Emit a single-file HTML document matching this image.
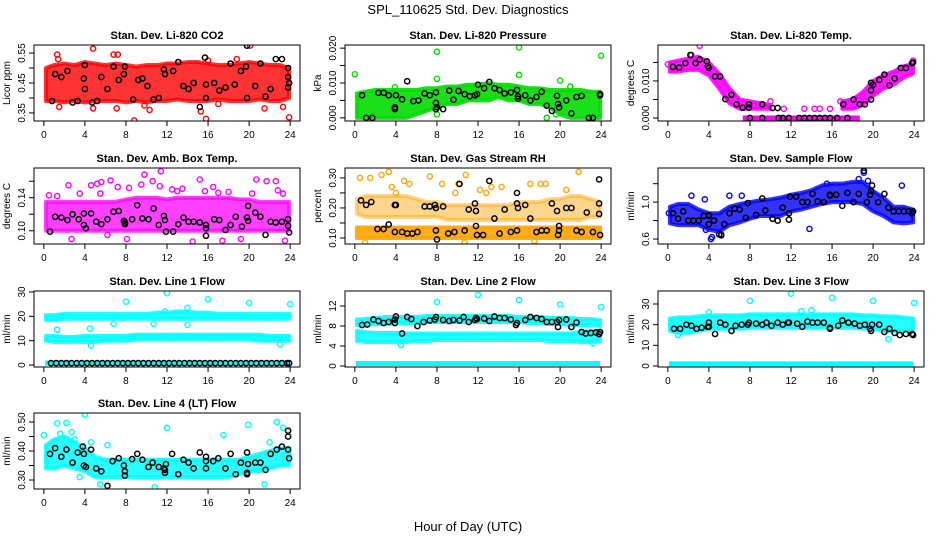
<!DOCTYPE html>
<html><head><meta charset="utf-8">
<style>
html,body{margin:0;padding:0;background:#fff;}
svg{display:block;font-family:"Liberation Sans",Arial,sans-serif;}
</style></head>
<body>
<svg id="chart" width="936" height="540" viewBox="0 0 936 540">
<text x="468" y="14" text-anchor="middle" font-size="13">SPL_110625  Std. Dev. Diagnostics</text>
<text x="468" y="531" text-anchor="middle" font-size="13">Hour of Day (UTC)</text>
</svg>
<script>
// ---------- shared categories ----------
const hours = [0,1,2,3,4,5,6,7,8,9,10,11,12,13,14,15,16,17,18,19,20,21,22,23,24];
const xTicks = [0,4,8,12,16,20,24];

// ---------- CO2 ----------
const co2Lo = [0.39,0.39,0.385,0.39,0.385,0.39,0.39,0.39,0.385,0.39,0.385,0.39,0.39,0.395,0.39,0.39,0.39,0.395,0.39,0.39,0.39,0.395,0.39,0.39,0.4];
const co2Hi = [0.5,0.51,0.515,0.51,0.52,0.515,0.51,0.515,0.51,0.505,0.51,0.51,0.515,0.515,0.52,0.52,0.515,0.51,0.51,0.515,0.52,0.515,0.51,0.51,0.5];
const co2Out = [[1.3,0.545],[4.8,0.565],[5.5,0.59],[8.8,0.325],[15.8,0.33],[23.9,0.335],[20.1,0.575],[1.5,0.37],[6.8,0.545],[7.2,0.545],[4.8,0.365],[10.3,0.36],[15.3,0.355],[21.5,0.365],[23.3,0.37],[17,0.38],[9.8,0.375],[7.1,0.365],[1.4,0.53],[18.8,0.53],[16,0.525]];
const co2Black = [[0.8,0.39],[1.1,0.48],[1.7,0.47],[2.3,0.49],[2.8,0.385],[3.3,0.39],[3.9,0.465],[4,0.43],[4,0.51],[4.7,0.385],[5.2,0.39],[5.6,0.47],[6.2,0.43],[6.8,0.505],[7.3,0.46],[7.8,0.48],[7.9,0.505],[8.7,0.395],[9.2,0.46],[9.6,0.465],[10.1,0.44],[10.7,0.395],[11.2,0.4],[11.7,0.495],[11.8,0.48],[12.6,0.49],[13.1,0.52],[13.6,0.44],[14.1,0.43],[14.6,0.45],[15.2,0.37],[15.8,0.4],[15.8,0.445],[15.7,0.535],[16.6,0.45],[17.1,0.425],[17.7,0.435],[18.2,0.515],[18.6,0.445],[19.2,0.49],[19.7,0.505],[19.8,0.4],[19.8,0.575],[20.6,0.44],[21.1,0.515],[21.6,0.405],[22.1,0.43],[22.6,0.53],[23.2,0.53],[23.8,0.5],[23.8,0.47],[23.9,0.45],[23.8,0.435]];
const co2Ticks = [0.35,0.40,0.45,0.50,0.55];
const co2Labels = ['0.35','','0.45','','0.55'];

// ---------- Pressure ----------
const presLo = [0,0,0,0,0,0,0.001,0.002,0.003,0.004,0.004,0.005,0.005,0.005,0.006,0.005,0.005,0.004,0.004,0.003,0.001,0,0,0,0];
const presHi = [0.007,0.0075,0.008,0.008,0.008,0.008,0.008,0.0085,0.0085,0.009,0.009,0.0095,0.0095,0.01,0.0095,0.0095,0.009,0.0085,0.0085,0.008,0.008,0.008,0.008,0.0075,0.0075];
const presOut = [[0,0.0125],[8,0.019],[8,0.0112],[16,0.0202],[16,0.0123],[24,0.0178],[20,0.0107],[21,0.009],[18.7,0],[3.9,0.0088],[8,0.001],[19.6,0.001]];
const presBlack = [[0.7,0.0065],[1.1,0],[1.7,0],[2.3,0.0072],[2.8,0.0072],[3.3,0.0065],[3.9,0.003],[3.9,0.0025],[4,0.0065],[4.6,0.0053],[5.1,0.0105],[5.7,0.0048],[6.2,0.005],[6.8,0.007],[7.3,0.0065],[7.9,0.0073],[7.9,0.0043],[8,0.003],[7.9,0.0025],[8.6,0.0025],[9.2,0.0078],[9.6,0.0052],[10.1,0.0077],[10.7,0.0068],[11.2,0.0062],[11.7,0.0065],[11.9,0.0068],[12,0.0095],[12.6,0.0085],[13.1,0.0103],[13.6,0.0085],[14.1,0.008],[14.6,0.007],[15.2,0.0073],[15.8,0.008],[15.9,0.0055],[15.9,0.0062],[16.6,0.0065],[17.1,0.005],[17.7,0.006],[18.2,0.0075],[18.7,0.0035],[19.2,0.002],[19.7,0.0063],[19.8,0.004],[19.9,0.003],[20.6,0.005],[21.1,0.0013],[21.6,0.006],[22.1,0.0063],[22.8,0],[23.2,0],[23.9,0.0065],[23.9,0.0068]];
const presTicks = [0,0.005,0.010,0.015,0.020];
const presLabels = ['0.000','','0.010','','0.020'];

// ---------- Li-820 Temp ----------
const tempLo = [0.0125,0.0125,0.013,0.013,0.0115,0.008,0.004,0.0025,0.0025,0.0025,0.0025,null,null,null,null,null,null,0.0025,0.0025,0.0035,0.006,0.008,0.009,0.011,0.012];
const tempHi = [0.015,0.0155,0.016,0.0165,0.015,0.012,0.008,0.005,0.0045,0.004,0.0035,null,null,null,null,null,null,0.0045,0.005,0.007,0.01,0.0115,0.0125,0.014,0.0145];
const tempZeroX = [7.3,18.7];
const tempOut = [[3.1,0.0195],[23.9,0.0155],[2.3,0.017],[10,0.0045],[11.3,0.0025],[13.3,0.0025],[14.3,0.0025],[14.8,0.0025],[15.8,0.0025],[16.8,0.0045],[0,0.0145]];
const tempBlack = [[0.5,0.0138],[1.1,0.0136],[1.7,0.0148],[2.2,0.017],[2.7,0.0148],[3.1,0.0158],[3.8,0.0153],[3.9,0.014],[4,0.0135],[4.6,0.0112],[5.1,0.0112],[5.6,0.0051],[6.2,0.0063],[6.7,0.0037],[7.3,0.0028],[7.9,0.0028],[7.9,0.0037],[9.2,0.0037],[10.2,0.0027],[10.7,0.0027],[17.1,0.0037],[18.1,0.005],[18.7,0.0037],[19.2,0.0037],[19.8,0.005],[19.8,0.0075],[19.8,0.0095],[20,0.009],[20.6,0.0103],[21.1,0.0117],[21.6,0.0088],[22.1,0.0107],[22.7,0.0135],[23.2,0.0135],[23.8,0.0148],[23.9,0.015],[8,0],[9.2,0],[10.8,0],[11.2,0],[11.8,0],[12.8,0],[13.3,0],[13.8,0],[14.3,0],[14.8,0],[15.3,0],[15.8,0],[16.5,0],[17.5,0]];
const tempTicks = [0,0.005,0.010,0.015];
const tempLabels = ['0.000','','0.010',''];

// ---------- Amb. Box Temp ----------
const boxLo = [0.1,0.1,0.1,0.1,0.1,0.1,0.1,0.1,0.1,0.1,0.1,0.1,0.1,0.1,0.1,0.1,0.1,0.1,0.1,0.1,0.1,0.1,0.1,0.1,0.1];
const boxHi = [0.135,0.135,0.135,0.135,0.135,0.135,0.135,0.135,0.138,0.14,0.14,0.14,0.138,0.14,0.14,0.14,0.14,0.14,0.14,0.138,0.138,0.135,0.135,0.135,0.135];
const boxOut = [[2.4,0.155],[1.3,0.142],[0.5,0.143],[2.7,0.09],[4.6,0.155],[5.2,0.157],[5.6,0.159],[6.5,0.161],[7.2,0.153],[8.3,0.152],[9.5,0.156],[9.8,0.168],[10.6,0.16],[11.4,0.172],[11.3,0.154],[12.5,0.15],[13.5,0.151],[14.5,0.087],[15.2,0.162],[15.7,0.148],[16.5,0.153],[17.4,0.088],[18,0.147],[20.7,0.162],[21.7,0.16],[22.6,0.16],[22.8,0.149],[23.3,0.145],[23.5,0.088],[19.2,0.09],[8.1,0.09],[6.2,0.095],[15.8,0.094],[3.5,0.145],[5.5,0.145],[13,0.148],[17,0.146],[20.3,0.145]];
const boxBlack = [[0.6,0.099],[1.1,0.117],[1.7,0.116],[2.3,0.113],[2.8,0.12],[3.4,0.114],[3.9,0.121],[3.9,0.107],[4.1,0.103],[4.6,0.121],[5.1,0.111],[5.6,0.108],[6.2,0.114],[6.8,0.123],[7.3,0.124],[7.8,0.112],[7.9,0.108],[7.9,0.11],[8.6,0.114],[9.1,0.131],[9.6,0.115],[10.2,0.114],[10.7,0.127],[11.2,0.107],[11.7,0.118],[11.8,0.113],[11.9,0.099],[12.6,0.099],[13.1,0.108],[13.6,0.116],[14.1,0.111],[14.6,0.111],[15.2,0.11],[15.8,0.103],[15.8,0.107],[15.8,0.094],[16.6,0.114],[17.1,0.113],[17.7,0.101],[18.2,0.107],[18.7,0.117],[19.3,0.105],[19.8,0.116],[19.9,0.112],[19.9,0.13],[20.6,0.122],[21.1,0.117],[21.6,0.095],[22.1,0.111],[22.6,0.11],[23.2,0.111],[23.8,0.114],[23.8,0.106],[23.9,0.098]];
const boxTicks = [0.10,0.12,0.14,0.16];
const boxLabels = ['0.10','','0.14',''];

// ---------- Gas Stream RH ----------
const rhLo = [0.1,0.1,0.1,0.1,0.1,0.1,0.1,0.1,0.1,0.1,0.1,0.1,0.1,0.1,0.1,0.1,0.1,0.1,0.1,0.1,0.1,0.1,0.1,0.1,0.1];
const rhHi = [0.135,0.135,0.135,0.135,0.135,0.135,0.135,0.135,0.135,0.135,0.135,0.135,0.135,0.135,0.135,0.135,0.135,0.135,0.135,0.135,0.135,0.135,0.135,0.135,0.135];
const rhLo2 = [0.18,0.17,0.17,0.17,0.17,0.17,0.17,0.17,0.17,0.16,0.16,0.16,0.16,0.16,0.16,0.16,0.16,0.16,0.16,0.16,0.16,0.16,0.16,0.17,0.17];
const rhHi2 = [0.23,0.24,0.24,0.24,0.24,0.24,0.23,0.22,0.22,0.21,0.21,0.21,0.21,0.21,0.21,0.21,0.22,0.22,0.22,0.23,0.23,0.24,0.24,0.23,0.22];
const rhOut = [[0.5,0.3],[1.5,0.3],[2.6,0.31],[3.3,0.32],[3.6,0.27],[4.8,0.29],[5.3,0.28],[7.3,0.305],[8.5,0.28],[9.8,0.25],[10.8,0.31],[10.1,0.28],[12.2,0.26],[13.3,0.27],[14.3,0.27],[17.1,0.28],[18.1,0.28],[18.6,0.28],[21.8,0.32],[20.6,0.26],[1,0.085],[10.7,0.085],[17.5,0.09],[4,0.25],[12.8,0.25]];
const rhBlack = [[0.6,0.225],[1.1,0.21],[1.6,0.22],[2.2,0.13],[2.8,0.13],[3.3,0.145],[3.9,0.12],[3.9,0.21],[4,0.21],[4.6,0.12],[5.1,0.115],[5.6,0.115],[6.1,0.12],[6.8,0.205],[7.3,0.205],[7.8,0.21],[7.9,0.2],[7.9,0.125],[8,0.095],[8.6,0.205],[9.1,0.115],[9.7,0.12],[10.2,0.28],[10.7,0.125],[11.1,0.195],[11.7,0.215],[11.8,0.19],[11.8,0.14],[11.9,0.11],[12.5,0.11],[13.1,0.29],[13.6,0.165],[14.1,0.115],[14.6,0.195],[15.2,0.12],[15.8,0.25],[15.8,0.215],[15.9,0.2],[15.8,0.125],[16.6,0.21],[17.1,0.165],[17.7,0.12],[18.2,0.125],[18.7,0.125],[19.2,0.215],[19.7,0.19],[19.8,0.11],[19.9,0.14],[19.9,0.125],[20.6,0.2],[21.1,0.2],[21.6,0.125],[22.1,0.12],[22.6,0.185],[23.2,0.12],[23.8,0.295],[23.8,0.215],[23.8,0.18],[23.9,0.11]];
const rhTicks = [0.10,0.15,0.20,0.25,0.30];
const rhLabels = ['0.10','','0.20','','0.30'];

// ---------- Sample Flow ----------
const sfLo = [0.77,0.75,0.75,0.75,0.7,0.68,0.75,0.78,0.82,0.85,0.85,0.85,0.9,0.92,0.95,0.98,1.0,1.0,1.0,0.98,0.9,0.85,0.78,0.77,0.78];
const sfHi = [0.95,0.98,0.98,0.92,0.88,0.88,0.95,0.98,1.0,1.02,1.03,1.05,1.08,1.1,1.13,1.18,1.2,1.2,1.22,1.22,1.12,1.05,0.95,0.95,0.92];
const sfOut = [[4.2,0.6],[4.3,0.62],[3.7,0.7],[5.2,0.65],[13.8,0.71],[18.6,1.25],[22.8,1.18],[19.1,1.32],[3.6,1.03],[0.1,0.88],[2.3,1.07],[6,1.07],[7.2,1.07],[15.5,1.2],[19.5,1.23]];
const sfBlack = [[0.5,0.88],[1,0.82],[1.5,0.9],[2,0.8],[2.5,0.8],[3,0.8],[3.5,0.85],[4,0.86],[4,0.76],[4,0.85],[4.5,0.8],[5,0.65],[5.2,0.64],[5.5,0.76],[6,0.88],[6.5,0.93],[7,0.92],[7.6,0.83],[7.8,0.99],[8.6,0.86],[9.2,1.04],[9.5,0.91],[10.2,0.82],[10.7,0.8],[11.2,0.94],[11.8,0.81],[11.8,0.88],[11.9,1.06],[12.5,1.06],[13.1,1.0],[13.6,1.0],[14.1,1.09],[14.6,1.01],[15.2,1.0],[15.8,1.08],[15.8,1.07],[16.4,1.08],[17,0.96],[17.5,1.1],[18.1,1.0],[18.6,1.09],[19.1,1.34],[19.4,1.0],[19.7,1.08],[19.8,1.12],[19.9,1.18],[20.5,1.0],[21.1,1.09],[21.5,0.94],[22,0.9],[22.5,0.9],[23,0.9],[23.5,0.9],[23.8,0.88],[23.9,0.9]];
const sfTicks = [0.6,0.8,1.0,1.2];
const sfLabels = ['0.6','','1.0',''];

// ---------- Line 1 Flow ----------
const l1Lo = [18.5,18.5,19,19,19,19,19,19,19,19,19,19,19,19,19,19,19,19,19,19,19,19,19,19,19];
const l1Hi = [20.5,20.5,21,21,21,21,21,21,21,21,21,21.5,21.5,22,22,21.5,21.5,21,21,21,21,21,21,21,21];
const l1Lo2 = [10,9.5,9.5,9.5,9.5,9.5,10,10,10,10.5,10.5,10.5,10.5,10.5,10.5,10.5,10.5,10.5,10.5,10.5,10.5,10,10,10,10];
const l1Hi2 = [12,12,11.5,11.5,12,12,12,12,12,12.5,12.5,12.5,12.5,12.5,12.5,12.5,12.5,12.5,12.5,12.5,12.5,12.5,12,12,12];
const l1Zero = [0.8];
const l1Out = [[8,26],[12,29.5],[16,27],[20,25.5],[24,25],[1.3,14.5],[4.5,15],[4.6,8],[6.8,17],[10.7,17],[14,16.5],[14,23.5],[11.8,22],[23,8.5]];
const l1BlackX = [0.7,1.2,1.7,2.2,2.7,3.2,3.7,4.2,4.7,5.2,5.7,6.2,6.7,7.2,7.7,8.2,8.7,9.2,9.7,10.2,10.7,11.2,11.7,12.2,12.7,13.2,13.7,14.2,14.7,15.2,15.7,16.2,16.7,17.2,17.7,18.2,18.7,19.2,19.7,20.2,20.7,21.2,21.7,22.2,22.7,23.2,23.7,23.9];
const l1Ticks = [0,10,20,30];
const l1Labels = ['0','10','20','30'];

// ---------- Line 2 Flow ----------
const l2Lo = [8.2,8.2,8.4,8.4,8.6,8.6,8.6,8.8,8.8,8.8,8.8,8.8,8.8,8.8,8.8,8.8,8.8,8.6,8.6,8.4,8.4,8.2,8.2,8.2,8];
const l2Hi = [9.3,9.4,9.6,9.8,9.8,9.8,9.8,10,10,10,10,10,10,10,10,10,9.8,9.8,9.8,9.6,9.6,9.6,9.4,9.4,9.2];
const l2Lo2 = [5,4.8,4.8,4.8,4.8,4.8,5,5,5.2,5.2,5.2,5.2,5.2,5.2,5.2,5.2,5.2,5.2,5.2,5,5,5,4.8,4.8,5];
const l2Hi2 = [7,6.8,6.6,6.6,6.6,6.5,6.5,6.5,6.5,6.5,6.5,6.5,6.5,6.5,6.5,6.5,6.5,6.5,6.5,6.5,6.5,6.5,6.8,7,7];
const l2Zero = [0.5];
const l2Out = [[8,12.8],[12,14.2],[16,13.2],[20,12.3],[24,11.8],[4.5,4.2],[23.2,4.5]];
const l2Black = [[0.7,8.2],[1.2,8.3],[1.8,9.3],[2.3,9],[2.8,8.6],[3.3,8.8],[3.9,8.6],[3.9,9.3],[4,9.9],[4.6,6.5],[5.1,9.8],[5.5,9.4],[6.1,8],[6.7,8.8],[7.3,9.1],[7.8,9.3],[7.9,9.8],[8.6,9.2],[9.2,9],[9.6,9.2],[10.2,9.1],[10.6,9.8],[11.1,8.8],[11.7,9.2],[11.8,9.6],[11.9,9.4],[12.6,9.5],[13.1,9],[13.6,9.9],[14.1,9.6],[14.6,9.6],[15.2,9.3],[15.7,8.2],[15.8,8.6],[16.6,9.2],[17.1,9.8],[17.7,9.6],[18.2,9.4],[18.7,8.8],[19.2,8.8],[19.7,8.8],[19.8,7.8],[19.9,9.2],[20.6,9.3],[21.1,7.8],[21.6,8.7],[22.1,6.8],[22.5,6.5],[23,6.6],[23.5,6.7],[23.8,6.4],[23.9,6.8]];
const l2Ticks = [0,4,8,12];
const l2Labels = ['0','4','8','12'];

// ---------- Line 3 Flow ----------
const l3Lo = [17,16,16,17,18,18,18,18,18.5,18.5,18.5,18.5,18.5,18.5,18.5,18.5,18.5,18.5,18.5,18,18,17,17,17,17];
const l3Hi = [23,23.5,23.5,24,24.5,24.5,24.5,24.5,25,25,25,25,25,25,25,25,25,25,25,24.5,24.5,24,24,23.5,23];
const l3Zero = [1];
const l3Out = [[8,31.5],[12,35],[16,33],[20,31.5],[24,30.5],[21.5,13],[1,15],[4,26],[14,27],[13,26.5]];
const l3Black = [[0.6,18],[1.2,18],[1.8,20],[2.3,19.5],[2.8,18],[3.3,18.5],[3.9,19],[4,21],[4,19],[4.6,15.5],[5.1,21],[5.6,20],[6.2,17],[6.6,19.5],[7.2,20],[7.8,20],[7.9,21],[8.6,20.5],[9.2,20],[9.6,21],[10.1,19.5],[10.7,21],[11.2,20],[11.7,21],[11.8,21],[12.6,20.5],[13.1,19],[13.6,21.5],[14.1,21],[14.6,21],[15.2,21],[15.8,18.5],[15.8,18],[16.6,19.5],[17,22],[17.6,21],[18.2,20.5],[18.7,19.5],[19.2,20],[19.7,18],[19.8,17],[19.9,20],[20.6,20],[21.1,16.5],[21.6,18],[22.1,16],[22.6,15],[23.2,15.5],[23.8,15.5],[23.9,15]];
const l3Ticks = [0,10,20,30];
const l3Labels = ['0','10','20','30'];

// ---------- Line 4 (LT) Flow ----------
const l4Lo = [0.34,0.34,0.35,0.34,0.33,0.31,0.31,0.31,0.31,0.31,0.31,0.31,0.31,0.31,0.31,0.31,0.31,0.31,0.31,0.32,0.33,0.33,0.34,0.35,0.35];
const l4Hi = [0.42,0.44,0.45,0.43,0.41,0.38,0.37,0.37,0.37,0.37,0.37,0.37,0.37,0.37,0.37,0.37,0.37,0.37,0.37,0.37,0.38,0.39,0.4,0.41,0.41];
const l4Out = [[1.3,0.495],[2.2,0.497],[4,0.525],[12,0.48],[19.9,0.49],[22.7,0.5],[23.3,0.48],[2.7,0.465],[0,0.455],[3.5,0.31],[10.8,0.275],[21.5,0.285],[5.5,0.285],[17.5,0.455],[22,0.43],[1.6,0.46],[3,0.44],[4.6,0.43],[6.2,0.42]];
const l4Black = [[0.6,0.39],[1.1,0.41],[1.7,0.38],[2.2,0.405],[2.8,0.36],[3.3,0.395],[3.8,0.415],[3.9,0.39],[3.9,0.35],[4.1,0.345],[4.6,0.405],[5.1,0.34],[5.6,0.33],[6.2,0.28],[6.7,0.365],[7.3,0.375],[7.8,0.35],[7.9,0.315],[7.9,0.33],[8.6,0.372],[9.1,0.39],[9.6,0.37],[10.2,0.345],[10.6,0.36],[11.2,0.345],[11.7,0.34],[11.8,0.335],[11.9,0.355],[11.8,0.325],[12.5,0.39],[13.1,0.32],[13.6,0.37],[14.1,0.36],[14.6,0.34],[15.2,0.395],[15.8,0.38],[15.8,0.365],[15.8,0.34],[16.5,0.365],[17,0.375],[17.7,0.34],[18.2,0.39],[18.7,0.32],[19.2,0.36],[19.8,0.325],[19.8,0.32],[19.9,0.355],[19.8,0.395],[20.6,0.36],[21.1,0.36],[21.6,0.335],[22.1,0.39],[22.7,0.405],[23.2,0.415],[23.8,0.405],[23.8,0.45],[23.8,0.47],[23.9,0.375]];
const l4Ticks = [0.30,0.35,0.40,0.45,0.50];
const l4Labels = ['0.30','','0.40','','0.50'];

const NS = 'http://www.w3.org/2000/svg';
const svg = document.getElementById('chart');
function mk(tag, attrs, parent){
  const e = document.createElementNS(NS, tag);
  for (const k in attrs) e.setAttribute(k, attrs[k]);
  (parent||svg).appendChild(e);
  return e;
}

const COLS = [34, 345, 658];
const ROWS = [45, 168, 291, 413];
const W = 266, H = 76;

function drawPanel(p){
  const L = COLS[p.col], T = ROWS[p.row];
  const g = mk('g', {});
  
  
  const xr = 24*1.08;
  const sx = v => L + (v + 0.96) / xr * W;
  const sy = v => T + H - (v - p.ymin) / (p.ymax - p.ymin) * H;
  const clip = 'clip-' + p.name;
  const cp = mk('clipPath', {id: clip}, g);
  mk('rect', {x: L, y: T, width: W, height: H}, cp);
  const plot = mk('g', {'clip-path': 'url(#' + clip + ')'}, g);
  
  

  // bands
  (p.bands || []).forEach((b, bi) => {
    let seg = [];
    const segs = [];
    hours.forEach((h, i) => {
      if (b.lo[i] == null) { if (seg.length) segs.push(seg); seg = []; }
      else seg.push(i);
    });
    if (seg.length) segs.push(seg);
    segs.forEach(s => {
      const top = s.map(i => sx(Math.max(0.2, Math.min(23.9, hours[i]))) + ',' + sy(b.hi[i]));
      const bot = s.slice().reverse().map(i => sx(Math.max(0.2, Math.min(23.9, hours[i]))) + ',' + sy(b.lo[i]));
      const poly = mk('polygon', {points: top.concat(bot).join(' '), fill: p.color, 'fill-opacity': b.op || 0.85, stroke: p.color, 'stroke-width': 4, 'stroke-linejoin': 'round', 'stroke-opacity': b.op || 0.85}, plot);
      
      
    });
  });
  // zero line
  if (p.zero) {
    const x0 = p.zeroX ? p.zeroX[0] : 0.1, x1 = p.zeroX ? p.zeroX[1] : 23.9;
    const ln = mk('line', {x1: sx(x0), x2: sx(x1), y1: sy(p.zero[0]), y2: sy(p.zero[0]), stroke: p.color, 'stroke-width': 5}, plot);
    
    
  }
  // outliers
  (p.out || []).forEach(pt => {
    const c = mk('circle', {cx: sx(pt[0]), cy: sy(pt[1]), r: 2.6, fill: 'none', stroke: p.color, 'stroke-width': 1.4}, plot);
    
    
  });
  // black points
  (p.black || []).forEach(pt => {
    const c = mk('circle', {cx: sx(pt[0]), cy: sy(pt[1]), r: 2.6, fill: 'none', stroke: '#000', 'stroke-width': 1.5}, plot);
    
    
  });

  // box
  const box = mk('rect', {x: L, y: T, width: W, height: H, fill: 'none', stroke: '#000', 'stroke-width': 1}, g);
  
  
  // title
  const tt = mk('text', {x: L + W/2, y: T - 6, 'text-anchor': 'middle', 'font-size': 11, 'font-weight': 'bold'}, g);
  tt.textContent = p.title;
  
  
  // x axis
  const xa = mk('g', {}, g);
  
  
  xTicks.forEach(v => {
    mk('line', {x1: sx(v), x2: sx(v), y1: T+H, y2: T+H+5, stroke: '#000'}, xa);
    const t = mk('text', {x: sx(v), y: T+H+17, 'text-anchor': 'middle', 'font-size': 10}, xa);
    t.textContent = v;
    
    
  });
  // y axis
  const ya = mk('g', {}, g);
  
  
  p.ticks.forEach((v, i) => {
    mk('line', {x1: L-5, x2: L, y1: sy(v), y2: sy(v), stroke: '#000'}, ya);
    if (p.labels[i]) {
      const t = mk('text', {x: L-9, y: sy(v), 'text-anchor': 'middle', 'font-size': 10, transform: 'rotate(-90 ' + (L-9) + ' ' + sy(v) + ')'}, ya);
      t.textContent = p.labels[i];
      
      
    }
  });
  const yt = mk('text', {x: L-24, y: T+H/2, 'text-anchor': 'middle', 'font-size': 10, transform: 'rotate(-90 ' + (L-24) + ' ' + (T+H/2) + ')'}, g);
  yt.textContent = p.ylab;
  
  
}

const toPts = (xs, y) => xs.map(x => [x, y]);

drawPanel({name:'co2', row:0, col:0, title:'Stan. Dev. Li-820 CO2', ylab:'Licor ppm', color:'#ff0000', ymin:0.323, ymax:0.577, ticks:co2Ticks, labels:co2Labels, bands:[{lo:co2Lo, hi:co2Hi, op:0.8}], out:co2Out, black:co2Black});
drawPanel({name:'pressure', row:0, col:1, title:'Stan. Dev. Li-820 Pressure', ylab:'kPa', color:'#00dd00', ymin:-0.0009, ymax:0.0209, ticks:presTicks, labels:presLabels, bands:[{lo:presLo, hi:presHi, op:0.9}], out:presOut, black:presBlack});
drawPanel({name:'li820-temp', row:0, col:2, title:'Stan. Dev. Li-820 Temp.', ylab:'degrees C', color:'#ff00ff', ymin:-0.0008, ymax:0.0197, ticks:tempTicks, labels:tempLabels, bands:[{lo:tempLo, hi:tempHi, op:0.9}], zero:[0], zeroX:tempZeroX, out:tempOut, black:tempBlack});
drawPanel({name:'amb-box-temp', row:1, col:0, title:'Stan. Dev. Amb. Box Temp.', ylab:'degrees C', color:'#ff00ff', ymin:0.084, ymax:0.176, ticks:boxTicks, labels:boxLabels, bands:[{lo:boxLo, hi:boxHi, op:0.75}], out:boxOut, black:boxBlack});
drawPanel({name:'gas-stream-rh', row:1, col:1, title:'Stan. Dev. Gas Stream RH', ylab:'percent', color:'#ffa500', ymin:0.08, ymax:0.333, ticks:rhTicks, labels:rhLabels, bands:[{lo:rhLo, hi:rhHi, op:0.9},{lo:rhLo2, hi:rhHi2, op:0.45}], out:rhOut, black:rhBlack});
drawPanel({name:'sample-flow', row:1, col:2, title:'Stan. Dev. Sample Flow', ylab:'ml/min', color:'#0000ff', ymin:0.546, ymax:1.37, ticks:sfTicks, labels:sfLabels, bands:[{lo:sfLo, hi:sfHi, op:0.8}], out:sfOut, black:sfBlack});
drawPanel({name:'line1-flow', row:2, col:0, title:'Stan. Dev. Line 1 Flow', ylab:'ml/min', color:'#00ffff', ymin:-0.8, ymax:30.4, ticks:l1Ticks, labels:l1Labels, bands:[{lo:l1Lo, hi:l1Hi, op:0.85},{lo:l1Lo2, hi:l1Hi2, op:0.85}], zero:l1Zero, out:l1Out, black:toPts(l1BlackX, 0.8)});
drawPanel({name:'line2-flow', row:2, col:1, title:'Stan. Dev. Line 2 Flow', ylab:'ml/min', color:'#00ffff', ymin:-0.2, ymax:15, ticks:l2Ticks, labels:l2Labels, bands:[{lo:l2Lo, hi:l2Hi, op:0.85},{lo:l2Lo2, hi:l2Hi2, op:0.85}], zero:l2Zero, out:l2Out, black:l2Black});
drawPanel({name:'line3-flow', row:2, col:2, title:'Stan. Dev. Line 3 Flow', ylab:'ml/min', color:'#00ffff', ymin:-0.5, ymax:36.3, ticks:l3Ticks, labels:l3Labels, bands:[{lo:l3Lo, hi:l3Hi, op:0.85}], zero:l3Zero, out:l3Out, black:l3Black});
drawPanel({name:'line4-flow', row:3, col:0, title:'Stan. Dev. Line 4 (LT) Flow', ylab:'ml/min', color:'#00ffff', ymin:0.269, ymax:0.531, ticks:l4Ticks, labels:l4Labels, bands:[{lo:l4Lo, hi:l4Hi, op:0.85}], out:l4Out, black:l4Black});
</script>
</body></html>
